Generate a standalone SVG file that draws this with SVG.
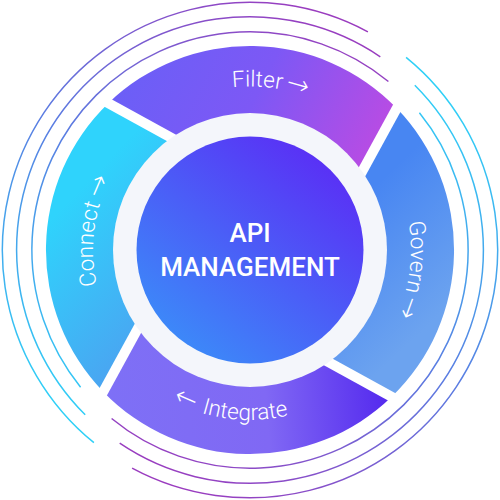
<svg xmlns="http://www.w3.org/2000/svg" xmlns:xlink="http://www.w3.org/1999/xlink" width="500" height="500" viewBox="0 0 500 500">
<defs>
<style>
.lbl{font-family:Roboto,"Liberation Sans",sans-serif;font-weight:300;font-size:22.5px;fill:#ffffff;}
.ar{font-family:"DejaVu Sans",sans-serif;font-weight:200;font-size:27px;}
.ttl{font-family:Roboto,"Liberation Sans",sans-serif;font-weight:500;font-size:26px;fill:#ffffff;text-anchor:middle;}
.arc{fill:none;stroke-width:1.5;}
.gap{stroke:#ffffff;stroke-width:10;fill:none;}
</style>
<linearGradient id="gArc1" gradientUnits="userSpaceOnUse" x1="80" y1="420" x2="330" y2="20">
<stop offset="0" stop-color="#2fd0f7"/><stop offset="0.5" stop-color="#5a7de2"/><stop offset="1" stop-color="#9a3cbf"/>
</linearGradient>
<linearGradient id="gArc2" gradientUnits="userSpaceOnUse" x1="420" y1="80" x2="170" y2="480">
<stop offset="0" stop-color="#2fd0f7"/><stop offset="0.5" stop-color="#5a7de2"/><stop offset="1" stop-color="#9a3cbf"/>
</linearGradient>
<linearGradient id="gFilter" gradientUnits="userSpaceOnUse" x1="130" y1="60" x2="360" y2="175">
<stop offset="0" stop-color="#6b5ff7"/><stop offset="0.5" stop-color="#7d58f5"/><stop offset="1" stop-color="#b74ce4"/>
</linearGradient>
<linearGradient id="gGovern" gradientUnits="userSpaceOnUse" x1="360" y1="200" x2="455" y2="300">
<stop offset="0" stop-color="#4886f2"/><stop offset="1" stop-color="#6ca3ef"/>
</linearGradient>
<linearGradient id="gIntegrate" gradientUnits="userSpaceOnUse" x1="110" y1="420" x2="395" y2="400">
<stop offset="0" stop-color="#7e70f6"/><stop offset="0.55" stop-color="#8068f4"/><stop offset="1" stop-color="#5226ee"/>
</linearGradient>
<linearGradient id="gConnect" gradientUnits="userSpaceOnUse" x1="50" y1="220" x2="175" y2="340">
<stop offset="0" stop-color="#2fd3fc"/><stop offset="1" stop-color="#4d9ff0"/>
</linearGradient>
<linearGradient id="gCore" gradientUnits="userSpaceOnUse" x1="330" y1="150" x2="165" y2="355">
<stop offset="0" stop-color="#5b2cf5"/><stop offset="1" stop-color="#3a90f9"/>
</linearGradient>
<path id="pFilter" d="M128.5,140.6 A163.5,163.5 0 0 1 394.4,173.2"/>
<path id="pGovern" d="M357.7,130.4 A161,161 0 0 1 325.6,392.1"/>
<path id="pIntegrate" d="M99.9,329.8 A170,170 0 0 0 376.3,363.7"/>
<path id="pConnect" d="M145.0,366.7 A157,157 0 0 1 176.3,111.4"/>
</defs>
<rect width="500" height="500" fill="#ffffff"/>
<g id="outer-arcs">
<path class="arc" stroke="url(#gArc1)" d="M93.9,442.7 A248,248 0 0 1 367.9,31.9"/>
<path class="arc" stroke="url(#gArc1)" d="M85.2,414.8 A233,233 0 0 1 380.3,56.8"/>
<path class="arc" stroke="url(#gArc1)" d="M80.6,387.2 A218,218 0 0 1 388.4,81.5"/>
<path class="arc" stroke="url(#gArc2)" d="M406.1,57.3 A248,248 0 0 1 132.1,468.1"/>
<path class="arc" stroke="url(#gArc2)" d="M414.8,85.2 A233,233 0 0 1 119.7,443.2"/>
<path class="arc" stroke="url(#gArc2)" d="M419.4,112.8 A218,218 0 0 1 111.6,418.5"/>
</g>
<g id="node-filter">
<path fill="url(#gFilter)" d="M108.3,103.2 A204,204 0 0 1 396.8,108.3 L358.4,178.3 A130,130 0 0 0 178.3,141.6 Z"/>
</g>
<g id="node-govern">
<path fill="url(#gGovern)" d="M396.8,108.3 A204,204 0 0 1 391.7,396.8 L321.7,358.4 A130,130 0 0 0 358.4,178.3 Z"/>
</g>
<g id="node-integrate">
<path fill="url(#gIntegrate)" d="M391.7,396.8 A204,204 0 0 1 103.2,391.7 L141.6,321.7 A130,130 0 0 0 321.7,358.4 Z"/>
</g>
<g id="node-connect">
<path fill="url(#gConnect)" d="M103.2,391.7 A204,204 0 0 1 108.3,103.2 L178.3,141.6 A130,130 0 0 0 141.6,321.7 Z"/>
</g>
<g id="connectors">
<line class="gap" x1="98.2" y1="97.7" x2="178.3" y2="141.6"/>
<line class="gap" x1="402.3" y1="98.2" x2="358.4" y2="178.3"/>
<line class="gap" x1="401.8" y1="402.3" x2="321.7" y2="358.4"/>
<line class="gap" x1="97.7" y1="401.8" x2="141.6" y2="321.7"/>
</g>
<g id="node-core">
<circle cx="250" cy="250" r="137" fill="#f4f6fb"/>
<circle cx="250" cy="250" r="113.5" fill="url(#gCore)"/>
<text class="ttl" x="250" y="242">API</text>
<text class="ttl" x="250" y="276">MANAGEMENT</text>
</g>
<g id="labels">
<text class="lbl"><textPath xlink:href="#pFilter" href="#pFilter" startOffset="50%" text-anchor="middle">Filter<tspan class="ar" dx="3">→</tspan></textPath></text>
<text class="lbl"><textPath xlink:href="#pGovern" href="#pGovern" startOffset="50%" text-anchor="middle">Govern<tspan class="ar" dx="3">→</tspan></textPath></text>
<text class="lbl"><textPath xlink:href="#pIntegrate" href="#pIntegrate" startOffset="50%" text-anchor="middle"><tspan class="ar">←</tspan><tspan dx="3"> Integrate</tspan></textPath></text>
<text class="lbl"><textPath xlink:href="#pConnect" href="#pConnect" startOffset="50%" text-anchor="middle">Connect<tspan class="ar" dx="4">→</tspan></textPath></text>
</g>
</svg>
